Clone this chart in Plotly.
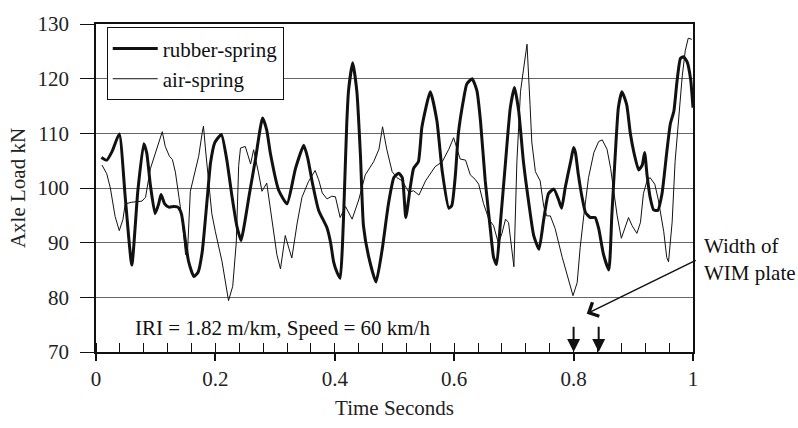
import plotly.graph_objects as go

# ---------------- data ----------------
rubber_t = [0.009, 0.018, 0.027, 0.039, 0.049, 0.060, 0.070, 0.080, 0.085, 0.091,
            0.099, 0.105, 0.109, 0.115, 0.122, 0.130, 0.137, 0.143, 0.150, 0.155,
            0.164, 0.171, 0.178, 0.186, 0.192, 0.199, 0.210, 0.219, 0.228, 0.236,
            0.243, 0.249, 0.256, 0.267, 0.279, 0.286, 0.292, 0.306, 0.320, 0.334,
            0.348, 0.355, 0.362, 0.373, 0.387, 0.393, 0.398, 0.404, 0.409, 0.413,
            0.416, 0.420, 0.423, 0.430, 0.437, 0.443, 0.448, 0.457, 0.469, 0.479,
            0.490, 0.499, 0.507, 0.513, 0.519, 0.526, 0.532, 0.540, 0.546, 0.560,
            0.571, 0.580, 0.591, 0.596, 0.602, 0.607, 0.616, 0.621, 0.630, 0.638,
            0.644, 0.652, 0.661, 0.666, 0.671, 0.677, 0.686, 0.694, 0.701, 0.708,
            0.716, 0.725, 0.733, 0.742, 0.750, 0.758, 0.767, 0.775, 0.780, 0.786,
            0.795, 0.800, 0.803, 0.808, 0.814, 0.820, 0.828, 0.836, 0.842, 0.850,
            0.859, 0.864, 0.870, 0.875, 0.881, 0.889, 0.895, 0.901, 0.909, 0.915,
            0.919, 0.923, 0.928, 0.934, 0.941, 0.948, 0.956, 0.962, 0.968, 0.973,
            0.979, 0.984, 0.990, 0.996, 1.000]
rubber_kn = [105.6, 105.1, 106.7, 109.9, 98.3, 85.9, 99.4, 108.1, 106.4, 100.6,
             95.3, 97.1, 98.8, 97.1, 96.5, 96.6, 96.5, 95.3, 90.1, 86.6,
             83.8, 84.6, 88.4, 97.7, 104.7, 108.3, 109.8, 105.2, 98.3, 93.0,
             90.4, 93.6, 98.3, 105.2, 112.8, 110.6, 106.4, 99.6, 97.1, 103.5,
             107.8, 105.3, 101.2, 95.9, 92.7, 90.0, 86.5, 84.5, 83.5, 90.0,
             98.9, 111.7, 117.8, 122.9, 117.6, 105.9, 93.1, 87.3, 82.8, 88.5,
             97.2, 101.9, 102.7, 101.9, 94.6, 99.8, 103.6, 104.8, 111.2, 117.6,
             112.3, 103.0, 96.3, 96.8, 102.4, 110.0, 116.4, 119.0, 120.0, 117.8,
             112.3, 101.3, 92.0, 87.3, 86.0, 93.1, 104.8, 114.7, 118.4, 114.1,
             104.8, 97.2, 91.4, 88.8, 94.3, 99.0, 99.8, 97.8, 96.3, 100.1,
             104.8, 107.4, 106.5, 102.4, 98.4, 95.5, 94.6, 94.6, 92.6, 87.9,
             85.0, 94.9, 106.5, 114.7, 117.6, 115.2, 110.0, 106.5, 103.3, 104.2,
             106.5, 102.4, 98.4, 96.0, 95.9, 98.9, 106.5, 111.7, 114.1, 119.3,
             123.7, 124.0, 123.1, 119.9, 114.7]

air_t = [0.010, 0.018, 0.024, 0.032, 0.039, 0.045, 0.049, 0.060, 0.077, 0.083,
         0.091, 0.099, 0.111, 0.116, 0.123, 0.128, 0.133, 0.139, 0.145, 0.150,
         0.153, 0.158, 0.164, 0.172, 0.178, 0.180, 0.184, 0.189, 0.194, 0.200,
         0.211, 0.222, 0.229, 0.235, 0.239, 0.242, 0.250, 0.259, 0.264, 0.272,
         0.278, 0.286, 0.295, 0.303, 0.309, 0.317, 0.323, 0.328, 0.337, 0.345,
         0.356, 0.367, 0.373, 0.379, 0.387, 0.395, 0.401, 0.409, 0.418, 0.429,
         0.440, 0.451, 0.465, 0.474, 0.480, 0.487, 0.496, 0.504, 0.513, 0.524,
         0.532, 0.541, 0.552, 0.568, 0.580, 0.591, 0.599, 0.605, 0.610, 0.619,
         0.627, 0.635, 0.641, 0.649, 0.658, 0.666, 0.674, 0.680, 0.686, 0.691,
         0.695, 0.700, 0.705, 0.711, 0.716, 0.722, 0.727, 0.730, 0.736, 0.744,
         0.750, 0.755, 0.761, 0.769, 0.781, 0.792, 0.799, 0.806, 0.811, 0.817,
         0.825, 0.834, 0.842, 0.848, 0.856, 0.862, 0.873, 0.880, 0.887, 0.892,
         0.898, 0.906, 0.912, 0.917, 0.923, 0.928, 0.936, 0.942, 0.951, 0.956,
         0.959, 0.965, 0.970, 0.976, 0.982, 0.987, 0.992, 0.998]
air_kn = [104.2, 102.6, 100.0, 94.8, 92.2, 94.2, 97.1, 97.4, 97.6, 98.3,
          103.5, 106.4, 110.3, 107.6, 105.8, 105.2, 102.9, 98.3, 93.6, 87.8,
          87.5, 99.4, 102.0, 105.8, 110.2, 111.3, 106.4, 100.6, 95.3, 92.0,
          86.6, 79.4, 82.0, 90.1, 104.1, 107.3, 107.6, 104.4, 107.0, 102.9,
          99.4, 100.9, 94.2, 87.8, 85.2, 91.3, 89.0, 87.2, 93.6, 98.3,
          101.2, 103.2, 101.5, 99.1, 98.0, 98.5, 98.4, 94.6, 96.6, 94.3,
          97.8, 102.4, 104.8, 107.1, 111.2, 107.1, 103.0, 101.9, 101.3, 99.2,
          99.5, 98.7, 101.3, 103.9, 104.8, 107.1, 109.2, 107.1, 105.3, 105.1,
          102.4, 101.6, 100.7, 97.2, 94.3, 93.1, 89.9, 91.7, 94.3, 93.7,
          90.0, 85.6, 104.8, 117.6, 121.6, 126.3, 115.3, 108.4, 103.0, 101.3,
          96.6, 94.9, 94.9, 92.6, 87.3, 83.0, 80.3, 82.7, 89.1, 94.9,
          101.9, 106.5, 108.5, 108.8, 107.1, 103.6, 94.9, 90.8, 93.1, 94.6,
          93.1, 91.7, 93.7, 99.0, 101.3, 101.9, 100.7, 97.8, 92.0, 87.3,
          86.5, 93.7, 104.8, 113.5, 120.5, 125.1, 127.4, 127.2]

series_names = ["rubber-spring", "air-spring"]
x_tick_vals = [0, 0.2, 0.4, 0.6, 0.8, 1]
x_tick_text = ["0", "0.2", "0.4", "0.6", "0.8", "1"]
y_tick_vals = [70, 80, 90, 100, 110, 120, 130]
wim_marks = [0.8, 0.842]          # WIM plate edges (s)
wim_arrow_top = 74.9              # kN, top of the small down arrows
note_text = "IRI = 1.82 m/km, Speed = 60 km/h"
note_pos = (0.062, 74.4)
wim_label = "Width of<br>WIM plate"
wim_label_pos = (1.015, 86.9)     # x in paper units (right of the plot)
wim_pointer_head = (0.822, 77.0)
wim_pointer_tail = (1.007, 86.9)

FONT = "Liberation Serif, Times New Roman, serif"

fig = go.Figure()
fig.add_trace(go.Scatter(
    x=rubber_t, y=rubber_kn, mode="lines", name=series_names[0],
    line=dict(color="#111111", width=3, shape="spline", smoothing=0.5),
    legendgroup="a"))
fig.add_trace(go.Scatter(
    x=air_t, y=air_kn, mode="lines", name=series_names[1],
    line=dict(color="#111111", width=1),
    legendgroup="b"))

annotations = [
    dict(x=note_pos[0], y=note_pos[1], xref="x", yref="y", text=note_text,
         showarrow=False, xanchor="left", yanchor="middle",
         font=dict(family=FONT, size=21, color="#111")),
    dict(x=wim_label_pos[0], y=wim_label_pos[1], xref="paper", yref="y",
         text=wim_label, showarrow=False, xanchor="left", yanchor="middle",
         align="left", font=dict(family=FONT, size=21, color="#111")),
    dict(x=wim_pointer_head[0], y=wim_pointer_head[1], xref="x", yref="y",
         ax=wim_pointer_tail[0], ay=wim_pointer_tail[1], axref="x", ayref="y",
         text="", showarrow=True, arrowhead=4, arrowsize=2, arrowwidth=1.5,
         arrowcolor="#111"),
]
for m in wim_marks:
    annotations.append(dict(
        x=m, y=70, xref="x", yref="y", ax=m, ay=wim_arrow_top,
        axref="x", ayref="y", text="", showarrow=True, arrowhead=2,
        arrowsize=1.3, arrowwidth=2, arrowcolor="#111"))

fig.update_layout(
    width=798, height=428,
    margin=dict(l=96, r=105, t=19, b=65),
    paper_bgcolor="white", plot_bgcolor="white",
    font=dict(family=FONT, size=21, color="#222"),
    showlegend=True,
    legend=dict(x=0.018, y=0.99, xanchor="left", yanchor="top",
                bgcolor="white", bordercolor="#111", borderwidth=1,
                itemwidth=45, tracegroupgap=0,
                font=dict(family=FONT, size=21, color="#111")),
    annotations=annotations,
    xaxis=dict(range=[0, 1], tickvals=x_tick_vals, ticktext=x_tick_text,
               showgrid=False, zeroline=False, showline=True,
               linecolor="#111", linewidth=1.5, mirror=True,
               ticks="outside", ticklen=7, tickwidth=1.5, tickcolor="#111",
               minor=dict(dtick=0.04, tick0=0, ticks="inside", ticklen=9,
                          tickwidth=1.2, tickcolor="#111"),
               title=dict(text="Time Seconds", standoff=10,
                          font=dict(family=FONT, size=21, color="#222")),
               tickfont=dict(family=FONT, size=21, color="#222")),
    yaxis=dict(range=[70, 130], tickvals=y_tick_vals,
               showgrid=True, gridcolor="#666", gridwidth=1,
               zeroline=False, showline=True, linecolor="#111", linewidth=1.5,
               mirror=True, ticks="outside", ticklen=14, tickwidth=1.2,
               tickcolor="#111", ticklabelstandoff=7,
               title=dict(text="Axle Load kN", standoff=6,
                          font=dict(family=FONT, size=21, color="#222")),
               tickfont=dict(family=FONT, size=21, color="#222")),
)

fig.write_html("out.html")
